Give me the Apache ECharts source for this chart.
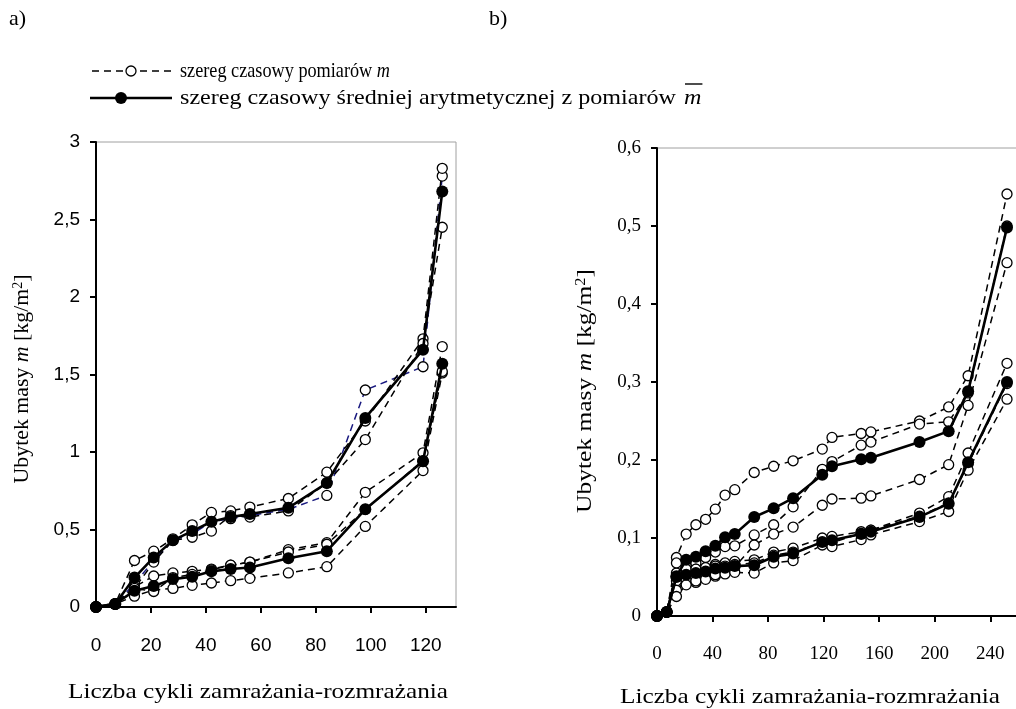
<!DOCTYPE html>
<html>
<head>
<meta charset="utf-8">
<script src="https://cdn.jsdelivr.net/npm/echarts@6/dist/echarts.min.js"></script>
<style>
  html, body { margin: 0; padding: 0; background: #fff; }
  #chart { width: 1016px; height: 709px; }
</style>
</head>
<body>
<div id="chart"></div>
<script>
// --- dane: wykres a) ---
const cyclesA = [0, 7, 14, 21, 28, 35, 42, 49, 56, 70, 84, 98, 119, 126];
// grupa górna (koniec ~2,7)
const aUpM1 = [0, 0.02, 0.15, 0.30, 0.43, 0.47, 0.55, 0.57, 0.59, 0.63, 0.72, 1.40, 1.55, 2.78]; // niebieska
const aUpM2 = [0, 0.02, 0.30, 0.36, 0.44, 0.53, 0.61, 0.62, 0.645, 0.70, 0.87, 1.20, 1.73, 2.83];
const aUpM3 = [0, 0.02, 0.12, 0.29, 0.43, 0.45, 0.49, 0.59, 0.58, 0.62, 0.80, 1.08, 1.70, 2.45];
const aUpMean = [0, 0.02, 0.19, 0.32, 0.43, 0.49, 0.55, 0.58, 0.60, 0.64, 0.80, 1.22, 1.66, 2.68];
// grupa dolna (koniec ~1,57)
const aLoM1 = [0, 0.02, 0.13, 0.20, 0.22, 0.23, 0.245, 0.27, 0.29, 0.37, 0.415, 0.74, 0.995, 1.68];
const aLoM2 = [0, 0.02, 0.07, 0.11, 0.12, 0.14, 0.155, 0.17, 0.185, 0.22, 0.26, 0.52, 0.88, 1.51];
const aLoM3 = [0, 0.02, 0.12, 0.10, 0.19, 0.21, 0.24, 0.27, 0.29, 0.355, 0.405, 0.63, 0.945, 1.52];
const aLoMean = [0, 0.02, 0.105, 0.135, 0.18, 0.195, 0.23, 0.245, 0.255, 0.315, 0.36, 0.63, 0.94, 1.57];

// --- dane: wykres b) ---
const cyclesB = [0, 7, 14, 21, 28, 35, 42, 49, 56, 70, 84, 98, 119, 126, 147, 154, 189, 210, 224, 252];
const bUpM1 = [0, 0.005, 0.075, 0.105, 0.117, 0.124, 0.137, 0.155, 0.162, 0.184, 0.192, 0.199, 0.214, 0.229, 0.234, 0.236, 0.250, 0.268, 0.308, 0.541];
const bUpM2 = [0, 0.005, 0.045, 0.065, 0.068, 0.075, 0.082, 0.089, 0.090, 0.104, 0.117, 0.140, 0.188, 0.198, 0.219, 0.223, 0.246, 0.249, 0.286, 0.500];
const bUpM3 = [0, 0.005, 0.033, 0.046, 0.043, 0.050, 0.051, 0.059, 0.063, 0.091, 0.105, 0.114, 0.142, 0.150, 0.151, 0.154, 0.175, 0.194, 0.270, 0.453];
const bUpMean = [0, 0.005, 0.051, 0.072, 0.076, 0.083, 0.090, 0.101, 0.105, 0.127, 0.138, 0.151, 0.181, 0.192, 0.201, 0.203, 0.223, 0.237, 0.288, 0.498];
const bLoM1 = [0, 0.005, 0.055, 0.058, 0.060, 0.062, 0.066, 0.068, 0.070, 0.072, 0.082, 0.087, 0.100, 0.102, 0.108, 0.110, 0.132, 0.153, 0.209, 0.324];
const bLoM2 = [0, 0.005, 0.068, 0.060, 0.060, 0.062, 0.064, 0.064, 0.066, 0.068, 0.078, 0.082, 0.094, 0.094, 0.106, 0.110, 0.128, 0.145, 0.195, 0.298];
const bLoM3 = [0, 0.005, 0.025, 0.040, 0.045, 0.047, 0.053, 0.054, 0.056, 0.055, 0.068, 0.071, 0.091, 0.089, 0.098, 0.104, 0.121, 0.134, 0.187, 0.278];
const bLoMean = [0, 0.005, 0.050, 0.053, 0.055, 0.057, 0.061, 0.062, 0.064, 0.065, 0.076, 0.080, 0.095, 0.097, 0.105, 0.108, 0.127, 0.144, 0.197, 0.300];

const ticksA = [0, 20, 40, 60, 80, 100, 120];
const ticksB = [0, 40, 80, 120, 160, 200, 240];

const legendLabels = ['szereg czasowy pomiarów ', 'szereg czasowy średniej arytmetycznej z pomiarów '];
const xTitle = 'Liczba cykli zamrażania-rozmrażania';
const yTitleParts = ['Ubytek masy ', 'm', ' [kg/m', '2', ']'];

const SERIF = "'Liberation Serif', 'Times New Roman', serif";
const SANS = "'Liberation Sans', Arial, sans-serif";

function pairs(xs, ys) { return xs.map((x, i) => [x, ys[i]]); }

function measSeries(idx, xs, ys, color) {
  return {
    type: 'line', xAxisIndex: idx, yAxisIndex: idx,
    data: pairs(xs, ys),
    symbol: 'circle', symbolSize: 10,
    itemStyle: { color: '#fff', borderColor: '#000', borderWidth: 1.3 },
    lineStyle: { color: color || '#000', width: 1.5, type: [7, 5] },
    z: 2, animation: false
  };
}
function meanSeries(idx, xs, ys) {
  return {
    type: 'line', xAxisIndex: idx, yAxisIndex: idx,
    data: pairs(xs, ys),
    symbol: 'circle', symbolSize: 12,
    itemStyle: { color: '#000' },
    lineStyle: { color: '#000', width: 2.6 },
    z: 3, animation: false
  };
}

function commaFmt(v) {
  if (v === 0) return '0';
  return String(+v.toFixed(2)).replace('.', ',');
}

// pomiar szerokości tekstu
const mctx = document.createElement('canvas').getContext('2d');
function textW(font, s) { mctx.font = font; return mctx.measureText(s).width; }

const chart = echarts.init(document.getElementById('chart'), null, { renderer: 'canvas' });

const axisBase = {
  axisLine: { show: true, lineStyle: { color: '#000', width: 2 } },
  axisTick: { show: true, length: 6, lineStyle: { color: '#000', width: 2 } },
  splitLine: { show: false }
};

// legenda
const LF = 21;
const legFont = LF + 'px ' + SERIF;
const legFontI = 'italic ' + LF + 'px ' + SERIF;
const graphics = [
  { type: 'text', x: 9, y: 19, style: { text: 'a)', font: '22px ' + SERIF, fill: '#000', textVerticalAlign: 'middle' } },
  { type: 'text', x: 489, y: 19, style: { text: 'b)', font: '22px ' + SERIF, fill: '#000', textVerticalAlign: 'middle' } },
  { type: 'line', shape: { x1: 92, y1: 71, x2: 172, y2: 71 }, style: { stroke: '#000', lineWidth: 1.5, lineDash: [7, 5] } },
  { type: 'circle', shape: { cx: 131, cy: 71, r: 5 }, style: { fill: '#fff', stroke: '#000', lineWidth: 1.3 } },
  { type: 'line', shape: { x1: 90, y1: 98, x2: 172, y2: 98 }, style: { stroke: '#000', lineWidth: 2.6 } },
  { type: 'circle', shape: { cx: 121, cy: 98, r: 6 }, style: { fill: '#000' } }
];
// pierwsza linia legendy: od x=180 do x=390
(function () {
  const sx = (390 - 180) / (textW(legFont, legendLabels[0]) + textW(legFontI, 'm'));
  graphics.push({ type: 'text', x: 180, y: 71, scaleX: sx, style: {
    text: '{t|' + legendLabels[0] + '}{i|m}',
    rich: { t: { font: legFont, fill: '#000' }, i: { font: legFontI, fill: '#000' } },
    textVerticalAlign: 'middle' } });
})();
// druga linia legendy: tekst od x=180 do x=682, potem m z kreską
(function () {
  const sx = (682 - 180) / textW(legFont, legendLabels[1]);
  graphics.push({ type: 'text', x: 180, y: 98, scaleX: sx, style: { text: legendLabels[1], font: legFont, fill: '#000', textVerticalAlign: 'middle' } });
  const wm = textW(legFontI, 'm') * sx;
  graphics.push({ type: 'text', x: 684, y: 98, scaleX: sx, style: { text: 'm', font: legFontI, fill: '#000', textVerticalAlign: 'middle' } });
  graphics.push({ type: 'line', shape: { x1: 685, y1: 84, x2: 685 + wm, y2: 84 }, style: { stroke: '#000', lineWidth: 1.4 } });
})();

// opisy osi
const TF = 22;
const titleFont = TF + 'px ' + SERIF;
const xtScale = 380 / textW(titleFont, xTitle);
graphics.push({ type: 'text', x: 258, y: 692, scaleX: xtScale, style: { text: xTitle, font: titleFont, fill: '#000', textAlign: 'center', textVerticalAlign: 'middle' } });
graphics.push({ type: 'text', x: 810, y: 697, scaleX: xtScale, style: { text: xTitle, font: titleFont, fill: '#000', textAlign: 'center', textVerticalAlign: 'middle' } });

const yTitleW = textW(titleFont, yTitleParts.join(''));
function yTitle(cx, cy, len) {
  return { type: 'text', x: cx, y: cy, rotation: Math.PI / 2, scaleX: len / yTitleW, style: {
    text: '{t|' + yTitleParts[0] + '}{i|' + yTitleParts[1] + '}{t|' + yTitleParts[2] + '}{s|' + yTitleParts[3] + '}{t|' + yTitleParts[4] + '}',
    rich: { t: { font: titleFont, fill: '#000' }, i: { font: 'italic ' + titleFont, fill: '#000' },
            s: { font: '14px ' + SERIF, fill: '#000', verticalAlign: 'top' } },
    textAlign: 'center', textVerticalAlign: 'middle' } };
}
graphics.push(yTitle(22, 379, 214));
graphics.push(yTitle(585, 391, 250));

const option = {
  backgroundColor: '#fff',
  grid: [
    { left: 96, top: 142, width: 360, height: 465, show: true, borderColor: '#a0a0a0', borderWidth: 1, outerBoundsMode: 'none' },
    { left: 657, top: 148, width: 375, height: 468, show: true, borderColor: '#a0a0a0', borderWidth: 1, outerBoundsMode: 'none' }
  ],
  xAxis: [
    Object.assign({}, axisBase, {
      gridIndex: 0, type: 'value', min: 0, max: 131, interval: 20,
      axisLabel: { color: '#000', fontSize: 19, fontFamily: SANS, margin: 29, showMaxLabel: false,
        formatter: v => ticksA.includes(v) ? String(v) : '' }
    }),
    Object.assign({}, axisBase, {
      gridIndex: 1, type: 'value', min: 0, max: 270, interval: 40,
      axisLabel: { color: '#000', fontSize: 19, fontFamily: SERIF, margin: 29, showMaxLabel: false,
        formatter: v => ticksB.includes(v) ? String(v) : '' }
    })
  ],
  yAxis: [
    Object.assign({}, axisBase, {
      gridIndex: 0, type: 'value', min: 0, max: 3, interval: 0.5,
      axisLabel: { color: '#000', fontSize: 19, fontFamily: SANS, margin: 16, formatter: commaFmt }
    }),
    Object.assign({}, axisBase, {
      gridIndex: 1, type: 'value', min: 0, max: 0.6, interval: 0.1,
      axisLabel: { color: '#000', fontSize: 19, fontFamily: SERIF, margin: 16, formatter: commaFmt }
    })
  ],
  series: [
    measSeries(0, cyclesA, aUpM1, '#1a1a80'),
    measSeries(0, cyclesA, aUpM2),
    measSeries(0, cyclesA, aUpM3),
    measSeries(0, cyclesA, aLoM1),
    measSeries(0, cyclesA, aLoM2),
    measSeries(0, cyclesA, aLoM3),
    meanSeries(0, cyclesA, aUpMean),
    meanSeries(0, cyclesA, aLoMean),
    measSeries(1, cyclesB, bUpM1),
    measSeries(1, cyclesB, bUpM2),
    measSeries(1, cyclesB, bUpM3),
    measSeries(1, cyclesB, bLoM1),
    measSeries(1, cyclesB, bLoM2),
    measSeries(1, cyclesB, bLoM3),
    meanSeries(1, cyclesB, bUpMean),
    meanSeries(1, cyclesB, bLoMean)
  ],
  graphic: graphics
};

chart.setOption(option);
</script>
</body>
</html>
